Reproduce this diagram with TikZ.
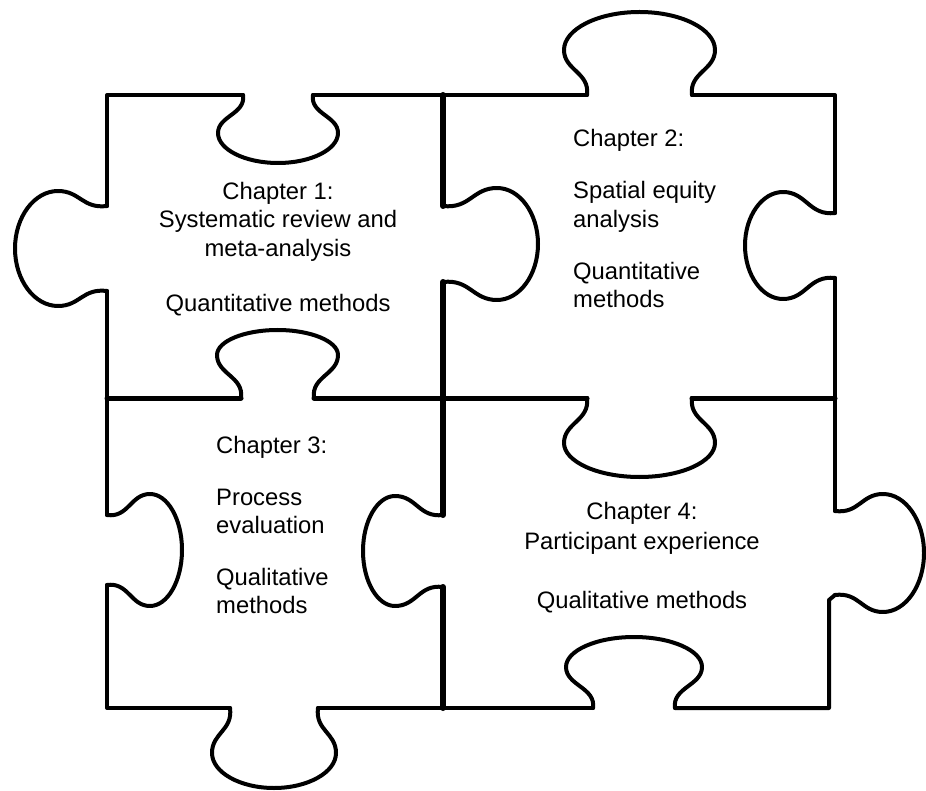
\documentclass[tikz,border=0pt]{standalone}
\usepackage{fontspec}
\setmainfont{Liberation Sans}
\tikzset{
  edge/.style={draw=black, line width=4pt, line cap=round, line join=round},
  midv/.style={edge, line width=6pt},
  midh/.style={edge, line width=5pt},
  txt/.style={inner sep=0pt, font=\fontsize{23.8}{28.5}\selectfont},
}
% #1 style, #2 neck start, #3 edge direction, #4 outward direction, #5 neck width, #6 bulb overhang, #7 bulb-widest height, #8 depth
\newcommand{\jtab}[8][edge]{%
  \begin{scope}[shift={#2}, x={#3}, y={#4}]
    \draw[#1] (0,0) .. controls (3,{0.5*#7}) and ({-#6},{0.55*#7}) .. ({-#6},#7)
      .. controls ({-#6},{#7+0.55*(#8-#7)}) and ({#5/2-0.55*(#5/2+#6)},#8) .. ({#5/2},#8)
      .. controls ({#5/2+0.55*(#5/2+#6)},#8) and ({#5+#6},{#7+0.55*(#8-#7)}) .. ({#5+#6},#7)
      .. controls ({#5+#6},{0.55*#7}) and ({#5-3},{0.5*#7}) .. (#5,0);
  \end{scope}}
\begin{document}
\begin{tikzpicture}[x=1pt,y=-1pt]
\useasboundingbox (0,0) rectangle (926,791);
% outer straight edges
\draw[edge] (243,95) -- (107,95) -- (107,206);
\draw[edge] (313,95) -- (587,95);
\draw[edge] (692,95) -- (835,95) -- (835,213);
\draw[edge] (107,291) -- (107,515);
\draw[edge] (835,278) -- (835,511);
\draw[edge] (107,585) -- (107,708) -- (230,708);
\draw[edge] (318,708) -- (593,708);
\draw[edge] (675,708) -- (829,708) -- (829,600) -- (835,595);
% middle lines
\draw[midh] (107,398) -- (241,398);
\draw[midh] (314,398) -- (587,398);
\draw[midh] (692,398) -- (835,398);
\draw[midv] (443,95) -- (443,206);
\draw[midv] (443,282) -- (443,515);
\draw[midv] (443,587) -- (443,708);
% tabs and notches
\jtab{(243,95)}{(1pt,0pt)}{(0pt,-1pt)}{70}{25}{38}{68}
\jtab{(107,206)}{(0pt,-1pt)}{(-1pt,0pt)}{85}{15}{49}{92}
\jtab{(443,206)}{(0pt,-1pt)}{(1pt,0pt)}{76}{18}{54}{95}
\jtab{(587,95)}{(1pt,0pt)}{(0pt,1pt)}{105}{23}{45}{83}
\jtab{(835,213)}{(0pt,-1pt)}{(-1pt,0pt)}{65}{21}{52}{90}
\jtab{(587,398)}{(1pt,0pt)}{(0pt,-1pt)}{105}{23}{45}{79}
\jtab{(241,398)}{(1pt,0pt)}{(0pt,1pt)}{73}{24}{43}{68}
\jtab{(107,515)}{(0pt,-1pt)}{(1pt,0pt)}{70}{21}{43}{75}
\jtab{(443,515)}{(0pt,-1pt)}{(-1pt,0pt)}{72}{19}{48}{80}
\jtab{(835,511)}{(0pt,-1pt)}{(1pt,0pt)}{84}{17}{48}{89}
\jtab{(593,708)}{(1pt,0pt)}{(0pt,1pt)}{82}{27}{41}{71}
\jtab{(230,708)}{(1pt,0pt)}{(0pt,-1pt)}{88}{18}{45}{80}
% texts
\node[txt, anchor=base] (c1a) at (278,200) {Chapter 1:};
\node[txt, anchor=base] (c1b) at (278,228) {Systematic review and};
\node[txt, anchor=base] (c1c) at (278,257) {meta-analysis};
\node[txt, anchor=base] (c1d) at (278,312) {Quantitative methods};
\node[txt, anchor=base west] (c2a) at (573,147) {Chapter 2:};
\node[txt, anchor=base west] (c2b) at (573,199) {Spatial equity};
\node[txt, anchor=base west] (c2c) at (573,228) {analysis};
\node[txt, anchor=base west] (c2d) at (573,280) {Quantitative};
\node[txt, anchor=base west] (c2e) at (573,308) {methods};
\node[txt, anchor=base west] (c3a) at (216,453) {Chapter 3:};
\node[txt, anchor=base west] (c3b) at (216,505) {Process};
\node[txt, anchor=base west] (c3c) at (216,533) {evaluation};
\node[txt, anchor=base west] (c3d) at (216,585) {Qualitative};
\node[txt, anchor=base west] (c3e) at (216,613) {methods};
\node[txt, anchor=base] (c4a) at (642,519) {Chapter 4:};
\node[txt, anchor=base] (c4b) at (642,549) {Participant experience};
\node[txt, anchor=base] (c4c) at (642,608) {Qualitative methods};
\end{tikzpicture}
\end{document}
